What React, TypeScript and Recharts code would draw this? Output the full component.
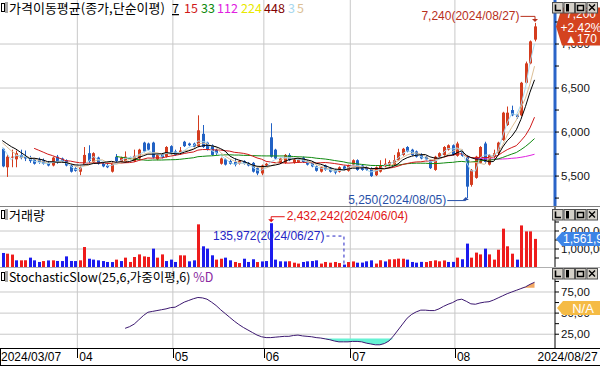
import React from 'react';
import { ComposedChart, Bar, Line, Area, XAxis, YAxis, CartesianGrid, ReferenceLine, ReferenceDot } from 'recharts';

// ---------------- data ----------------
const marDays = [7, 8, 11, 12, 13, 14, 15, 18, 19, 20, 21, 22, 25, 26, 27, 28, 29];
const aprDays = [1, 2, 3, 4, 5, 8, 9, 11, 12, 15, 16, 17, 18, 19, 22, 23, 24, 25, 26, 29, 30];
const mayDays = [2, 3, 7, 8, 9, 10, 13, 14, 16, 17, 20, 21, 22, 23, 24, 27, 28, 29, 30, 31];
const junDays = [3, 4, 5, 7, 10, 11, 12, 13, 14, 17, 18, 19, 20, 21, 24, 25, 26, 27, 28];
const julDays = [1, 2, 3, 4, 5, 8, 9, 10, 11, 12, 15, 16, 17, 18, 19, 22, 23, 24, 25, 26, 29, 30, 31];
const augDays = [1, 2, 5, 6, 7, 8, 9, 12, 13, 14, 16, 19, 20, 21, 22, 23, 26, 27];

const opens = [
  5810, 5600, 5710, 5690, 5740, 5720, 5710, 5690, 5690, 5680,
  5650, 5620, 5720, 5700, 5680, 5620, 5590, 5550, 5630, 5760,
  5660, 5710, 5650, 5620, 5550, 5720, 5660, 5660, 5710, 5670,
  5700, 5880, 5870, 5880, 5690, 5750, 5720, 5840, 5780, 5770,
  5890, 5870, 5870, 5840, 5980, 5880, 5850, 5800, 5640, 5690,
  5670, 5660, 5640, 5670, 5650, 5650, 5590, 5530, 5620, 5940,
  5800, 5650, 5650, 5740, 5650, 5660, 5710, 5670, 5660, 5610,
  5550, 5620, 5590, 5570, 5550, 5610, 5560, 5630, 5680, 5620,
  5600, 5590, 5510, 5550, 5610, 5630, 5630, 5680, 5740, 5830,
  5800, 5780, 5740, 5720, 5680, 5570, 5720, 5740, 5800, 5850,
  5730, 5780, 5720, 5400, 5480, 5650, 5870, 5630, 5720, 5760,
  5910, 6080, 6250, 6190, 6190, 6560, 6780, 7050,
];
const highs = [
  5820, 5740, 5800, 5790, 5800, 5790, 5730, 5700, 5710, 5700,
  5670, 5720, 5740, 5710, 5690, 5630, 5600, 5610, 5830, 5850,
  5770, 5720, 5660, 5640, 5660, 5750, 5720, 5780, 5720, 5800,
  5810, 5890, 5880, 5890, 5750, 5760, 5840, 5850, 5800, 5830,
  5900, 5880, 5880, 6190, 6080, 5890, 5860, 5810, 5710, 5700,
  5690, 5700, 5680, 5680, 5660, 5660, 5600, 5630, 5650, 6100,
  5810, 5710, 5750, 5760, 5700, 5700, 5720, 5680, 5670, 5620,
  5610, 5630, 5600, 5580, 5610, 5620, 5630, 5690, 5690, 5630,
  5610, 5600, 5610, 5680, 5700, 5680, 5740, 5810, 5820, 5840,
  5810, 5790, 5760, 5730, 5690, 5730, 5770, 5840, 5860, 5860,
  5890, 5800, 5730, 5580, 5730, 5840, 5890, 5750, 5800, 5890,
  6230, 6290, 6300, 6200, 6570, 6800, 7040, 7240,
];
const lows = [
  5600, 5490, 5600, 5600, 5690, 5670, 5650, 5630, 5640, 5630,
  5610, 5610, 5640, 5660, 5610, 5540, 5550, 5510, 5620, 5650,
  5650, 5630, 5600, 5590, 5540, 5660, 5650, 5650, 5690, 5660,
  5690, 5770, 5790, 5700, 5680, 5700, 5710, 5740, 5730, 5740,
  5830, 5840, 5820, 5830, 5820, 5790, 5730, 5740, 5630, 5620,
  5630, 5610, 5630, 5630, 5610, 5540, 5510, 5510, 5610, 5710,
  5690, 5640, 5640, 5670, 5640, 5650, 5650, 5620, 5600, 5550,
  5540, 5560, 5540, 5520, 5540, 5560, 5550, 5620, 5560, 5560,
  5560, 5490, 5500, 5540, 5600, 5620, 5620, 5670, 5730, 5770,
  5730, 5710, 5690, 5680, 5580, 5560, 5710, 5730, 5790, 5730,
  5720, 5720, 5250, 5380, 5470, 5640, 5640, 5620, 5700, 5750,
  5900, 6070, 6180, 6150, 6180, 6550, 6770, 7030,
];
const closes = [
  5610, 5720, 5720, 5760, 5710, 5700, 5670, 5640, 5660, 5640,
  5620, 5710, 5660, 5670, 5620, 5550, 5560, 5600, 5740, 5670,
  5760, 5640, 5610, 5600, 5650, 5670, 5710, 5720, 5700, 5730,
  5800, 5780, 5800, 5710, 5740, 5710, 5830, 5750, 5740, 5790,
  5840, 5850, 5830, 6020, 5830, 5800, 5740, 5760, 5700, 5630,
  5640, 5630, 5670, 5640, 5620, 5550, 5530, 5620, 5640, 5720,
  5700, 5700, 5740, 5680, 5690, 5690, 5660, 5630, 5610, 5560,
  5600, 5570, 5550, 5540, 5600, 5570, 5620, 5680, 5570, 5570,
  5570, 5500, 5600, 5620, 5640, 5660, 5680, 5770, 5810, 5780,
  5740, 5720, 5700, 5690, 5590, 5720, 5760, 5830, 5850, 5740,
  5870, 5730, 5380, 5570, 5720, 5830, 5660, 5740, 5760, 5880,
  6220, 6220, 6190, 6170, 6560, 6780, 7030, 7200,
];
// closes before the first visible day (only feed the moving averages)
const priorCloses = [5980, 5970, 5960, 5950, 5960, 5940, 5935];

const volumes = [
  780000, 740000, 690000, 370000, 370000, 375000, 520000, 370000, 280000, 330000,
  365000, 370000, 335000, 330000, 590000, 335000, 330000, 370000, 1110000, 460000,
  410000, 370000, 330000, 280000, 275000, 410000, 330000, 520000, 280000, 555000,
  700000, 590000, 560000, 1020000, 520000, 700000, 330000, 410000, 280000, 650000,
  645000, 315000, 370000, 2370000, 1150000, 1020000, 650000, 410000, 460000, 520000,
  370000, 280000, 220000, 460000, 280000, 430000, 275000, 310000, 330000, 2432242,
  410000, 315000, 310000, 320000, 240000, 190000, 280000, 315000, 330000, 370000,
  190000, 280000, 240000, 280000, 220000, 135972, 275000, 310000, 240000, 245000,
  315000, 370000, 190000, 375000, 310000, 425000, 430000, 465000, 460000, 410000,
  280000, 240000, 285000, 275000, 330000, 370000, 315000, 365000, 280000, 285000,
  520000, 430000, 1300000, 520000, 800000, 700000, 1020000, 700000, 410000, 960000,
  2130000, 1150000, 740000, 410000, 2310000, 1980000, 1980000, 1561904,
];
const volUp = [
  0, 1, 1, 0, 1, 1, 0, 0, 0, 1,
  0, 1, 0, 0, 0, 0, 0, 1, 1, 0,
  0, 0, 0, 0, 0, 1, 0, 1, 1, 1,
  1, 1, 1, 0, 1, 1, 0, 0, 0, 1,
  1, 0, 0, 1, 0, 0, 0, 1, 1, 0,
  0, 1, 1, 0, 0, 0, 1, 0, 0, 0,
  0, 0, 0, 1, 1, 1, 0, 0, 0, 0,
  1, 1, 1, 1, 1, 0, 1, 1, 0, 0,
  0, 0, 1, 1, 0, 1, 1, 1, 1, 0,
  0, 0, 0, 1, 1, 1, 1, 1, 0, 0,
  1, 0, 0, 1, 1, 1, 0, 1, 1, 1,
  1, 1, 1, 0, 1, 1, 1, 1,
];
const stochD = [
  null, null, null, null, null, null, null, null, null, null,
  null, null, null, null, null, null, null, null, null, null,
  null, null, null, null, null, null, null,
  32, 34, 37, 42, 47, 51, 52, 53, 54, 55,
  56.5, 57, 60, 63, 65, 67, 68.5, 68, 66.5, 63,
  59, 54, 49.5, 45, 40.5, 36.5, 33, 30, 27, 24,
  22, 21, 21, 21.5, 22, 22.5, 22.5, 23.5, 24, 23,
  22.5, 22, 21, 20.5, 19.5, 18.5, 17, 16, 16, 16,
  16.5, 16.5, 16, 14.5, 13.5, 12.5, 12.5, 14, 17, 23,
  30, 37, 44, 48.5, 51.5, 53.5, 53.5, 53, 53, 55,
  58, 60.5, 62.5, 65.5, 66.5, 64, 61, 60.5, 62, 63,
  63.5, 65.5, 68, 70.5, 73, 75, 77, 79, 81, 84,
  86.5,
];

const maPeriods = [3, 5, 7, 15, 33, 112, 224, 448];
const priceTicks = [5250, 5500, 5750, 6000, 6250, 6500, 6750, 7000, 7250];
const priceGrid = [5500, 6000, 6500, 7000];
const volTicks = [500000, 1000000, 1500000, 2000000, 2500000];
const volGrid = [1000000, 2000000];
const stochTicks = [25, 37.5, 50, 62.5, 75, 87.5];
const stochGrid = [25, 50, 75];
const stochLow = 20;
const stochHigh = 80;

// ---------------- styles ----------------
const CANDLE_UP = '#d43c1e';
const CANDLE_DN = '#2262c4';
const VOL_UP = '#ee1c1c';
const VOL_DN = '#1c1cee';
const GRID = '#c8c8c8';
const MA_COLORS: Record<number, string> = {
  3: '#a8d8ee', 5: '#dcbf96', 7: '#000000', 15: '#d01818', 33: '#108a10', 112: '#e020e0', 224: '#e8e800', 448: '#800000',
};
const NUM_FONT = "'Liberation Sans', Arial, sans-serif";
const K_FONT = "'Noto Sans CJK KR', 'Liberation Sans', sans-serif";
const X_DOMAIN: [number, number] = [-0.5, 121.5];
const PRICE_DOMAIN: [number, number] = [5160, 7500];
const VOL_DOMAIN: [number, number] = [0, 3333333];
const STOCH_DOMAIN: [number, number] = [8.7, 103.4];
const AXIS_W = 45;

// ---------------- derived ----------------
const fmt = (v: number) => Math.round(v).toString().replace(/\B(?=(\d{3})+(?!\d))/g, ',');
const pad = (d: number) => (d < 10 ? '0' + d : '' + d);
const dates: string[] = [];
([['03', marDays], ['04', aprDays], ['05', mayDays], ['06', junDays], ['07', julDays], ['08', augDays]] as [string, number[]][])
  .forEach(([m, ds]) => ds.forEach((d) => dates.push(`2024/${m}/${pad(d)}`)));
const lastIdx = dates.length - 1;
const monthStarts = dates.map((d, i) => i).filter((i) => i > 0 && dates[i].slice(5, 7) !== dates[i - 1].slice(5, 7));
const monthLines = monthStarts.map((i) => i - 0.5);

const allCloses = [...priorCloses, ...closes];
const sma = (n: number) =>
  closes.map((_, i) => {
    const end = i + priorCloses.length;
    const start = end - n + 1;
    if (start < 0) return null;
    let s = 0;
    for (let k = start; k <= end; k++) s += allCloses[k];
    return s / n;
  });
const maSeries: Record<number, (number | null)[]> = {};
maPeriods.forEach((n) => (maSeries[n] = sma(n)));
const drawnMAs = [112, 33, 15, 5, 3, 7, 224, 448].filter((n) => maSeries[n].filter((v) => v != null).length > 1);

const rows = dates.map((date, i) => {
  const d = stochD[i];
  const r: any = {
    i, date, o: opens[i], h: highs[i], l: lows[i], c: closes[i], range: [lows[i], highs[i]],
    vol: volumes[i], up: volUp[i], d,
    dLow: d != null && d < stochLow ? [d, stochLow] : [stochLow, stochLow],
    dHigh: d != null && d > stochHigh ? [stochHigh, d] : [stochHigh, stochHigh],
  };
  maPeriods.forEach((n) => (r['ma' + n] = maSeries[n][i]));
  return r;
});

let hiIdx = 0, loIdx = 0, vMaxIdx = 0, vMinIdx = 0;
rows.forEach((r, i) => {
  if (r.h > highs[hiIdx]) hiIdx = i;
  if (r.l < lows[loIdx]) loIdx = i;
  if (r.vol > volumes[vMaxIdx]) vMaxIdx = i;
  if (r.vol < volumes[vMinIdx]) vMinIdx = i;
});
const lastClose = closes[lastIdx];
const change = lastClose - closes[lastIdx - 1];
const changePct = (change / closes[lastIdx - 1]) * 100;
const lastVol = volumes[lastIdx];
const stochMid = (STOCH_DOMAIN[0] + STOCH_DOMAIN[1]) / 2;

// ---------------- shapes ----------------
const Candle = (p: any) => {
  const { x, y, width, height, payload } = p;
  if (!payload || height == null || isNaN(y)) return <g />;
  const { o, h, l, c } = payload;
  const col = c >= o ? CANDLE_UP : CANDLE_DN;
  const cx = Math.round(x + width / 2);
  const k = h > l ? height / (h - l) : 0;
  const py = (v: number) => y + (h - v) * k;
  const top = py(Math.max(o, c));
  const bot = py(Math.min(o, c));
  return (
    <g>
      <line x1={cx + 0.5} x2={cx + 0.5} y1={y} y2={y + height} stroke={col} strokeWidth={1} />
      <rect x={cx - 1} y={top} width={3} height={Math.max(1, bot - top)} fill={col} />
    </g>
  );
};

const VolBar = (p: any) => {
  const { x, y, width, height, payload } = p;
  if (!payload || height == null || isNaN(y)) return <g />;
  const cx = Math.round(x + width / 2);
  return <rect x={cx - 1} y={y} width={3} height={Math.max(0, height)} fill={payload.up ? VOL_UP : VOL_DN} />;
};

const ANN_HI = '#b8301c';
const ANN_LO = '#2850a8';
const ANN_VMAX = '#e01414';
const ANN_VMIN = '#2424c4';

const HiMark = (p: any) => {
  const { cx, cy } = p;
  const ly = cy - 7;
  return (
    <g>
      <text x={cx - 15} y={ly} dy={4} textAnchor="end" fontSize={12} fontFamily={NUM_FONT} fill={ANN_HI}>
        {`${fmt(highs[hiIdx])}(${dates[hiIdx]})`}
      </text>
      <polyline points={`${cx - 14},${ly + 0.5} ${cx + 0.5},${ly + 0.5} ${cx + 0.5},${cy - 3}`} fill="none" stroke={ANN_HI} />
      <polygon points={`${cx - 2.5},${cy - 4} ${cx + 3.5},${cy - 4} ${cx + 0.5},${cy - 1}`} fill={ANN_HI} />
    </g>
  );
};

const LoMark = (p: any) => {
  const { cx, cy } = p;
  const ly = cy + 2;
  return (
    <g>
      <text x={cx - 20} y={ly} dy={4} textAnchor="end" fontSize={12} fontFamily={NUM_FONT} fill={ANN_LO}>
        {`${fmt(lows[loIdx])}(${dates[loIdx]})`}
      </text>
      <polyline points={`${cx - 19},${ly + 0.5} ${cx - 0.5},${ly + 0.5} ${cx - 0.5},${cy + 1}`} fill="none" stroke={ANN_LO} />
      <polygon points={`${cx - 3.5},${cy + 2} ${cx + 2.5},${cy + 2} ${cx - 0.5},${cy - 1}`} fill={ANN_LO} />
    </g>
  );
};

const VMaxMark = (p: any) => {
  const { cx, cy } = p;
  const ly = cy - 7;
  return (
    <g>
      <text x={cx + 16} y={ly} dy={4} textAnchor="start" fontSize={12} fontFamily={NUM_FONT} fill={ANN_VMAX}>
        {`${fmt(volumes[vMaxIdx])}(${dates[vMaxIdx]})`}
      </text>
      <polyline points={`${cx + 14},${ly + 0.5} ${cx + 0.5},${ly + 0.5} ${cx + 0.5},${cy - 3}`} fill="none" stroke={ANN_VMAX} />
      <polygon points={`${cx - 2.5},${cy - 4} ${cx + 3.5},${cy - 4} ${cx + 0.5},${cy - 1}`} fill={ANN_VMAX} />
    </g>
  );
};

const VMinMark = (p: any) => {
  const { cx, cy } = p;
  const ly = cy - 29;
  return (
    <g>
      <text x={cx - 19} y={ly} dy={4} textAnchor="end" fontSize={12} fontFamily={NUM_FONT} fill={ANN_VMIN}>
        {`${fmt(volumes[vMinIdx])}(${dates[vMinIdx]})`}
      </text>
      <polyline points={`${cx - 17},${ly + 0.5} ${cx + 0.5},${ly + 0.5} ${cx + 0.5},${cy + 2}`} fill="none" stroke={ANN_VMIN} strokeDasharray="3 3" />
    </g>
  );
};

const PriceBox = (p: any) => {
  const vb = p.viewBox || {};
  const x0 = vb.x + vb.width;
  const y = vb.y;
  return (
    <g>
      <polygon points={`${x0 + 1},${y} ${x0 + 7},${y - 19} ${x0 + 46},${y - 19} ${x0 + 46},${y + 19} ${x0 + 7},${y + 19}`} fill="#d4431f" />
      <text x={x0 + 26} y={y - 12} dy={4} textAnchor="middle" fontSize={12} fontFamily={NUM_FONT} fill="#fff">{fmt(lastClose)}</text>
      <text x={x0 + 26} y={y + 2} dy={4} textAnchor="middle" fontSize={12} fontFamily={NUM_FONT} fill="#fff">{`${change >= 0 ? '+' : ''}${changePct.toFixed(2)}%`}</text>
      <text x={x0 + 26} y={y + 13} dy={4} textAnchor="middle" fontSize={12} fontFamily={NUM_FONT} fill="#fff">{`${change >= 0 ? '▲' : '▼'}${fmt(Math.abs(change))}`}</text>
    </g>
  );
};

const VolBox = (p: any) => {
  const vb = p.viewBox || {};
  const x0 = vb.x + vb.width;
  const y = vb.y;
  return (
    <g>
      <polygon points={`${x0 + 1},${y} ${x0 + 7},${y - 7} ${x0 + 46},${y - 7} ${x0 + 46},${y + 7} ${x0 + 7},${y + 7}`} fill="#3d84e6" />
      <text x={x0 + 8} y={y} dy={4} fontSize={12} fontFamily={NUM_FONT} fill="#fff">{fmt(lastVol)}</text>
    </g>
  );
};

const NaBox = (p: any) => {
  const vb = p.viewBox || {};
  const x0 = vb.x + vb.width;
  const y = vb.y;
  return (
    <g>
      <polygon points={`${x0 + 2},${y} ${x0 + 8},${y - 7} ${x0 + 46},${y - 7} ${x0 + 46},${y + 7} ${x0 + 8},${y + 7}`} fill="#f5bb45" />
      <text x={x0 + 28} y={y} dy={4.5} textAnchor="middle" fontSize={13} fontFamily={NUM_FONT} fill="#fff">N/A</text>
    </g>
  );
};

const PriceTick = (p: any) => {
  const { x, y, payload } = p;
  if (payload.value % 500 !== 0) return <g />;
  return <text x={x} y={y} dy={4} fontSize={11.5} fontFamily={NUM_FONT} fill="#111">{fmt(payload.value)}</text>;
};
const VolTick = (p: any) => {
  const { x, y, payload } = p;
  if (payload.value % 1000000 !== 0) return <g />;
  return <text x={x} y={y} dy={4} fontSize={11.5} fontFamily={NUM_FONT} fill="#111">{fmt(payload.value)}</text>;
};
const StochTick = (p: any) => {
  const { x, y, payload } = p;
  if (payload.value % 25 !== 0) return <g />;
  return <text x={x} y={y} dy={4} fontSize={11.5} fontFamily={NUM_FONT} fill="#111">{payload.value.toFixed(2).replace('.', ',')}</text>;
};
const dateTicks = [X_DOMAIN[0], ...monthLines, lastIdx];
const DateTick = (p: any) => {
  const { x, y, payload } = p;
  const v = payload.value;
  const base = y + 13;
  if (v === X_DOMAIN[0]) return <text x={x + 1} y={base} fontSize={12} fontFamily={NUM_FONT} fill="#000">{dates[0]}</text>;
  if (v === lastIdx) return <text x={x + 3} y={base} fontSize={12} fontFamily={NUM_FONT} fill="#000">{dates[lastIdx]}</text>;
  const idx = Math.round(v + 0.5);
  return (
    <g>
      <line x1={Math.round(x) + 0.5} x2={Math.round(x) + 0.5} y1={y} y2={y + 10} stroke="#000" />
      <text x={x + 2} y={base} fontSize={12} fontFamily={NUM_FONT} fill="#000">{dates[idx].slice(5, 7)}</text>
    </g>
  );
};

const Buttons = ({ y }: { y: number }) => (
  <g>
    {[0, 1, 2, 3].map((k) => (
      <rect key={k} x={552.5 + k * 11.5} y={y + 0.5} width={10.5} height={10.5} fill="#d4d0c8" stroke="#505050" strokeWidth={1} />
    ))}
    <path d={`M555.5 ${y + 2.5} V${y + 8.5} H561`} stroke="#000" fill="none" strokeWidth={1.6} />
    <rect x={566} y={y + 2} width={3} height={7.5} fill="#000" />
    <rect x={577.5} y={y + 3.5} width={6} height={5} fill="none" stroke="#000" strokeWidth={1.5} />
    <path d={`M589 ${y + 2.5} L595 ${y + 8.5} M595 ${y + 2.5} L589 ${y + 8.5}`} stroke="#000" strokeWidth={1.4} />
  </g>
);

const Icon = ({ y }: { y: number }) => (
  <g>
    <rect x={1.5} y={y + 1.5} width={3} height={8} fill="#fff" stroke="#000" />
    <rect x={5} y={y} width={3} height={11} fill="#a8a8a8" />
  </g>
);

const legendItems: { text: string; color: string; x: number; underline?: boolean }[] = [
  { text: '7', color: '#000000', x: 172, underline: true },
  { text: '15', color: MA_COLORS[15], x: 184 },
  { text: '33', color: MA_COLORS[33], x: 201 },
  { text: '112', color: MA_COLORS[112], x: 217 },
  { text: '224', color: MA_COLORS[224], x: 241 },
  { text: '448', color: MA_COLORS[448], x: 264 },
  { text: '3', color: MA_COLORS[3], x: 288 },
  { text: '5', color: MA_COLORS[5], x: 297 },
];

// transparent chart laid over a panel so its value box sits above the axis labels
const BoxLayer = ({ top, height, domain, value, label }: any) => (
  <div style={{ position: 'absolute', left: 0, top }}>
    <ComposedChart width={600} height={height} data={rows} margin={{ top: 0, right: AXIS_W, bottom: 0, left: 0 }}>
      <XAxis type="number" dataKey="i" domain={X_DOMAIN} hide allowDataOverflow />
      <YAxis hide domain={domain} allowDataOverflow />
      <ReferenceLine y={value} stroke="none" label={label} />
    </ComposedChart>
  </div>
);

export default function App() {
  return (
    <div style={{ position: 'absolute', left: 0, top: 0, width: 600, height: 366, background: '#fff', overflow: 'hidden' }}>
      {/* price panel */}
      <div style={{ position: 'absolute', left: 0, top: 0 }}>
        <ComposedChart width={600} height={206} data={rows} margin={{ top: 0, right: 0, bottom: 0, left: 0 }}>
          <CartesianGrid stroke={GRID} horizontalValues={priceGrid} verticalValues={monthLines} />
          <XAxis type="number" dataKey="i" domain={X_DOMAIN} hide allowDataOverflow />
          <YAxis
            orientation="right" width={AXIS_W} domain={PRICE_DOMAIN} ticks={priceTicks} interval={0} allowDataOverflow
            axisLine={{ stroke: '#2a64c8', strokeWidth: 3 }} tickLine={{ stroke: '#000' }} tickSize={4} tickMargin={2}
            tick={<PriceTick />}
          />
          <Bar dataKey="range" shape={<Candle />} barSize={3} isAnimationActive={false} />
          {drawnMAs.map((n) => (
            <Line key={n} dataKey={'ma' + n} stroke={MA_COLORS[n]} strokeWidth={1} dot={false} activeDot={false} isAnimationActive={false} />
          ))}
          <ReferenceDot x={hiIdx} y={highs[hiIdx]} r={1} shape={<HiMark />} />
          <ReferenceDot x={loIdx} y={lows[loIdx]} r={1} shape={<LoMark />} />
        </ComposedChart>
      </div>
      <BoxLayer top={0} height={206} domain={PRICE_DOMAIN} value={lastClose} label={<PriceBox />} />

      {/* volume panel */}
      <div style={{ position: 'absolute', left: 0, top: 207 }}>
        <ComposedChart width={600} height={60} data={rows} margin={{ top: 0, right: 0, bottom: 0, left: 0 }}>
          <CartesianGrid stroke={GRID} horizontalValues={volGrid} verticalValues={monthLines} />
          <XAxis type="number" dataKey="i" domain={X_DOMAIN} hide allowDataOverflow />
          <YAxis
            orientation="right" width={AXIS_W} domain={VOL_DOMAIN} ticks={volTicks} interval={0} allowDataOverflow
            axisLine={{ stroke: '#000' }} tickLine={{ stroke: '#000' }} tickSize={4} tickMargin={2}
            tick={<VolTick />}
          />
          <Bar dataKey="vol" shape={<VolBar />} barSize={3} isAnimationActive={false} />
          <ReferenceDot x={vMinIdx} y={volumes[vMinIdx]} r={1} shape={<VMinMark />} />
          <ReferenceDot x={vMaxIdx} y={volumes[vMaxIdx]} r={1} shape={<VMaxMark />} />
        </ComposedChart>
      </div>
      <BoxLayer top={207} height={60} domain={VOL_DOMAIN} value={lastVol} label={<VolBox />} />

      {/* stochastic panel + date axis */}
      <div style={{ position: 'absolute', left: 0, top: 268 }}>
        <ComposedChart width={600} height={98} data={rows} margin={{ top: 0, right: 0, bottom: 0, left: 0 }}>
          <CartesianGrid stroke={GRID} horizontalValues={stochGrid} verticalValues={monthLines} />
          <XAxis
            type="number" dataKey="i" domain={X_DOMAIN} allowDataOverflow ticks={dateTicks} interval={0}
            height={18} tickLine={false} axisLine={false} tickSize={0} tickMargin={0} tick={<DateTick />}
          />
          <YAxis
            orientation="right" width={AXIS_W} domain={STOCH_DOMAIN} ticks={stochTicks} interval={0} allowDataOverflow
            axisLine={{ stroke: '#000' }} tickLine={{ stroke: '#000' }} tickSize={4} tickMargin={2}
            tick={<StochTick />}
          />
          <Area dataKey="dLow" stroke="none" fill="#66f2d4" fillOpacity={1} isAnimationActive={false} />
          <Area dataKey="dHigh" stroke="none" fill="#f2a862" fillOpacity={1} isAnimationActive={false} />
          <Line dataKey="d" stroke="#3c1870" strokeWidth={1} dot={false} activeDot={false} isAnimationActive={false} />
        </ComposedChart>
      </div>
      <BoxLayer top={268} height={80} domain={STOCH_DOMAIN} value={stochMid} label={<NaBox />} />

      {/* frame, titles, buttons */}
      <svg width={600} height={366} style={{ position: 'absolute', left: 0, top: 0, pointerEvents: 'none' }}>
        <line x1={0} x2={600} y1={206.5} y2={206.5} stroke="#808080" />
        <line x1={0} x2={600} y1={267.5} y2={267.5} stroke="#b0b0b0" />
        <line x1={0} x2={600} y1={348.5} y2={348.5} stroke="#000" />
        <line x1={0} x2={600} y1={365.5} y2={365.5} stroke="#000" />
        <line x1={0.5} x2={0.5} y1={348} y2={366} stroke="#000" />

        <Icon y={2} />
        <text x={9} y={13} fontSize={13} fontFamily={K_FONT} fill="#000">가격이동평균(종가,단순이평)</text>
        {legendItems.map((it) => (
          <text key={it.text + it.x} x={it.x} y={13} fontSize={12.5} fontFamily={K_FONT} fill={it.color} textDecoration={it.underline ? 'underline' : undefined}>
            {it.text}
          </text>
        ))}

        <Icon y={209} />
        <text x={9} y={220} fontSize={13} fontFamily={K_FONT} fill="#000">거래량</text>

        <Icon y={271} />
        <text x={9} y={282} fontSize={12.5} fontFamily={K_FONT} fill="#000">
          StochasticSlow(25,6,가중이평,6) <tspan fill="#8a2aa0">%D</tspan>
        </text>

        <Buttons y={2} />
        <Buttons y={209} />
        <Buttons y={268} />
      </svg>
    </div>
  );
}
